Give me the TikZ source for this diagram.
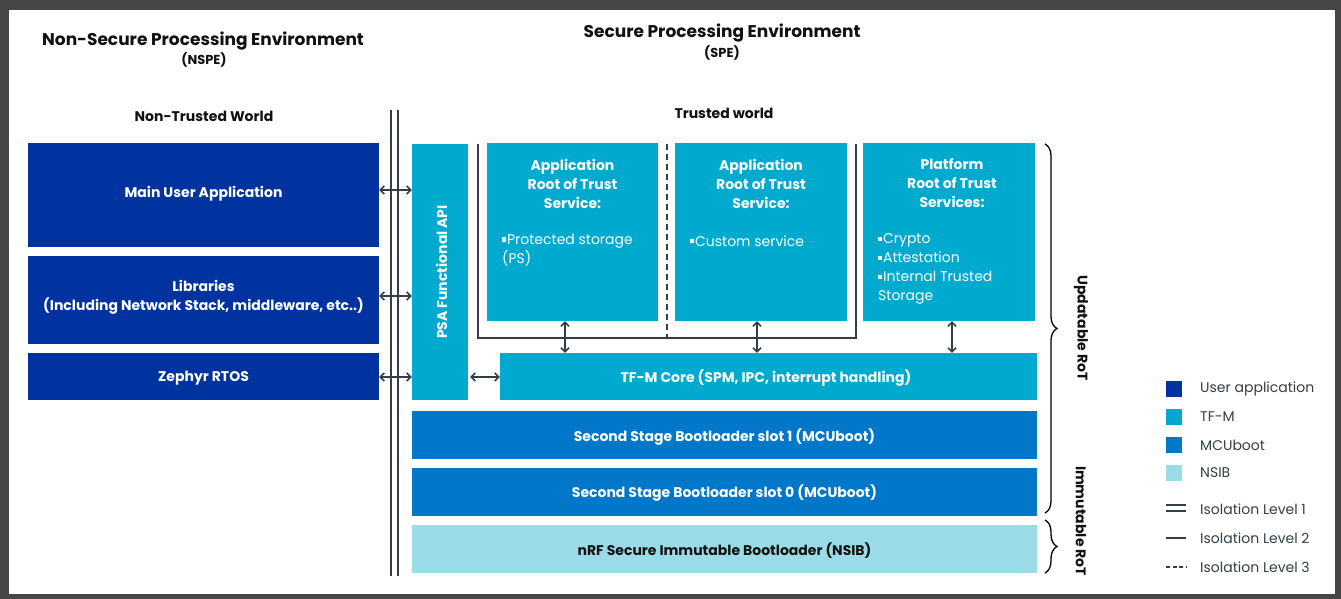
\documentclass[tikz,border=0pt]{standalone}
\usepackage{fontspec}
\setmainfont{Poppins}
\usetikzlibrary{arrows.meta,decorations.pathreplacing}
\definecolor{uacol}{HTML}{0033A0}
\definecolor{tfmcol}{HTML}{00A9CE}
\definecolor{mcucol}{HTML}{0077C8}
\definecolor{nsibcol}{HTML}{9ADBE8}
\definecolor{linecol}{HTML}{333F48}
\definecolor{framecol}{HTML}{474747}
\definecolor{titlecol}{HTML}{111111}
\newcommand{\sqbul}{\rule[0.2em]{0.3em}{0.3em}\kern0.05em}
\begin{document}
\begin{tikzpicture}[x=1pt,y=-1pt,
  box/.style={draw=none,inner sep=0,minimum width=#1},
  wtxt/.style={text=white,font=\fontsize{14}{19}\selectfont\bfseries,align=center,inner sep=0},
  wbul/.style={text=white,font=\fontsize{14}{19}\selectfont,align=left,inner sep=0,anchor=west},
  ttl/.style={text=titlecol,font=\fontsize{17}{20}\selectfont\bfseries,inner sep=0},
  sttl/.style={text=titlecol,font=\fontsize{13}{15}\selectfont\bfseries,inner sep=0},
  wttl/.style={text=titlecol,font=\fontsize{14}{16}\selectfont\bfseries,inner sep=0},
  legtxt/.style={text=linecol,font=\fontsize{14}{16}\selectfont,inner sep=0,anchor=west},
  arr/.style={draw=linecol,line width=1.5pt,{Straight Barb[length=4pt,width=8pt]}-{Straight Barb[length=4pt,width=8pt]}},
  iso/.style={draw=linecol,line width=1.6pt},
  brc/.style={draw=black,line width=1.3pt,decorate,decoration={brace,amplitude=12pt}},
  rotl/.style={text=titlecol,font=\fontsize{14}{16}\selectfont\bfseries,inner sep=0,rotate=-90}
]
\fill[framecol] (0,0) rectangle (1341,599);
\fill[white] (9,10) rectangle (1335,594);
\useasboundingbox (0,0) rectangle (1341,599);

% titles
\node[ttl] (nspe) at (203,41) {Non-Secure Processing Environment};
\node[sttl] (nspes) at (204,60) {(NSPE)};
\node[ttl] (spe) at (722,33) {Secure Processing Environment};
\node[sttl] (spes) at (722,53) {(SPE)};
\node[wttl] (ntw) at (204,116) {Non-Trusted World};
\node[wttl] (tw) at (724,113) {Trusted world};

% left boxes
\node[box=351,fill=uacol,minimum height=104] (main) at (203.5,195) {};
\node[wtxt] (maint) at (203.5,193.5) {Main User Application};
\node[box=351,fill=uacol,minimum height=88] (lib) at (203.5,300) {};
\node[wtxt] (libt) at (203.5,297.5) {Libraries\\(Including Network Stack, middleware, etc..)};
\node[box=351,fill=uacol,minimum height=47] (zeph) at (203.5,376.5) {};
\node[wtxt] (zepht) at (203.5,378.5) {Zephyr RTOS};

% isolation level 1
\coordinate (iso1t) at (391,110);
\coordinate (iso1b) at (391,576);
\coordinate (iso2t) at (398,110);
\coordinate (iso2b) at (398,576);
\draw[iso] (iso1t) -- (iso1b);
\draw[iso] (iso2t) -- (iso2b);

% PSA
\node[box=56,fill=tfmcol,minimum height=256] (psa) at (440,272) {};
\node[wtxt,rotate=90] (psat) at (441.5,272) {PSA Functional API};

% service boxes
\node[box=171,fill=tfmcol,minimum height=178] (app1) at (572.5,232) {};
\node[box=172,fill=tfmcol,minimum height=178] (app2) at (761,232) {};
\node[box=172,fill=tfmcol,minimum height=178] (plat) at (949,232) {};

\node[wtxt] (a1t) at (572.5,183.5) {Application\\Root of Trust\\Service:};
\node[wbul] (a1b) at (502,250) {\sqbul Protected storage\\(PS)};
\node[wtxt] (a2t) at (761,183.5) {Application\\Root of Trust\\Service:};
\node[wbul] (a2b) at (690,241) {\sqbul Custom service};
\node[wtxt] (pt) at (952,183.5) {Platform\\Root of Trust\\Services:};
\node[wbul] (pb) at (878,269) {\sqbul Crypto\\\sqbul Attestation\\\sqbul Internal Trusted\\Storage};

% isolation level 2 / 3
\coordinate (brl) at (478,144);
\coordinate (brr) at (856,144);
\coordinate (brb) at (856,338);
\draw[iso] (brl) |- (brb) -- (brr);
\coordinate (dt) at (667,144);
\coordinate (db) at (667,338);
\draw[iso,dash pattern=on 6pt off 4pt] (dt) -- (db);

% lower boxes
\node[box=537,fill=tfmcol,minimum height=47] (tfm) at (768.5,376.5) {};
\node[wtxt] (tfmt) at (766,378) {TF-M Core (SPM, IPC, interrupt handling)};
\node[box=625,fill=mcucol,minimum height=48] (s1) at (724.5,435) {};
\node[wtxt] (s1t) at (724.5,437) {Second Stage Bootloader slot 1 (MCUboot)};
\node[box=625,fill=mcucol,minimum height=48] (s0) at (724.5,492) {};
\node[wtxt] (s0t) at (724.5,493.5) {Second Stage Bootloader slot 0 (MCUboot)};
\node[box=625,fill=nsibcol,minimum height=48] (nsib) at (724.5,549) {};
\node[wtxt,text=titlecol] (nsibt) at (724.5,550.5) {nRF Secure Immutable Bootloader (NSIB)};

% arrows
\draw[arr] (main.east |- 0,190) -- (psa.west |- 0,190);
\draw[arr] (lib.east |- 0,296) -- (psa.west |- 0,296);
\draw[arr] (zeph.east |- 0,377) -- (psa.west |- 0,377);
\draw[arr] ([xshift=2pt]psa.east |- 0,377) -- (tfm.west |- 0,377);
\draw[arr] (app1.south -| 565,0) -- (tfm.north -| 565,0);
\draw[arr] (app2.south -| 757,0) -- (tfm.north -| 757,0);
\draw[arr] (plat.south -| 952,0) -- (tfm.north -| 952,0);

% braces
\coordinate (b1t) at (1045,144);
\coordinate (b1b) at (1045,513);
\coordinate (b2t) at (1045,520);
\coordinate (b2b) at (1045,573);
\draw[brc] (b1t) -- (b1b);
\draw[brc] (b2t) -- (b2b);
\node[rotl] (upd) at (1081,328) {Updatable RoT};
\node[rotl] (imm) at (1081,521) {Immutable RoT};

% legend
\node[box=16,minimum height=16,fill=uacol] (l1) at (1174,389) {};
\node[box=16,minimum height=16,fill=tfmcol] (l2) at (1174,417) {};
\node[box=16,minimum height=16,fill=mcucol] (l3) at (1174,445) {};
\node[box=16,minimum height=16,fill=nsibcol] (l4) at (1174,473) {};
\node[legtxt] (l1t) at (1200,389) {User application};
\node[legtxt] (l2t) at (1200,417) {TF-M};
\node[legtxt] (l3t) at (1200,445) {MCUboot};
\node[legtxt] (l4t) at (1200,473) {NSIB};
\coordinate (i1a) at (1166,505); \coordinate (i1b) at (1186,505);
\coordinate (i1c) at (1166,511); \coordinate (i1d) at (1186,511);
\draw[draw=linecol,line width=1.3pt] (i1a) -- (i1b);
\draw[draw=linecol,line width=1.3pt] (i1c) -- (i1d);
\coordinate (i2a) at (1166,538); \coordinate (i2b) at (1186,538);
\draw[draw=linecol,line width=1.5pt] (i2a) -- (i2b);
\coordinate (i3a) at (1166,567); \coordinate (i3b) at (1186,567);
\draw[draw=linecol,line width=1.5pt,dash pattern=on 4pt off 2.5pt] (i3a) -- (i3b);
\node[legtxt] (i1t) at (1200,509) {Isolation Level 1};
\node[legtxt] (i2t) at (1200,538) {Isolation Level 2};
\node[legtxt] (i3t) at (1200,567) {Isolation Level 3};
\end{tikzpicture}
\end{document}
